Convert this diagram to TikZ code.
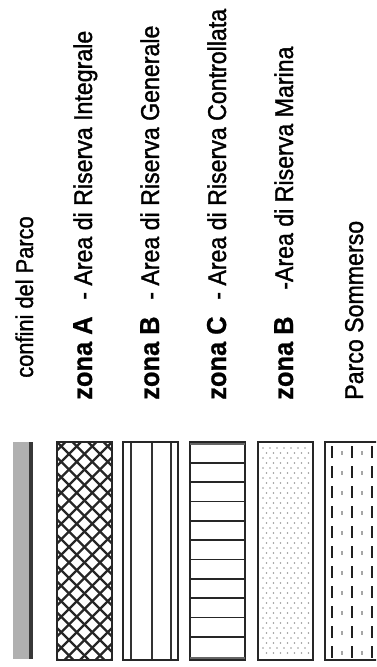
\documentclass[tikz,border=0pt]{standalone}
\usepackage{fontspec}
\setmainfont{Liberation Sans}
\newfontfamily\reglbl[FakeStretch=0.9,FakeBold=1.3]{Liberation Sans}
\newfontfamily\boldlbl[FakeStretch=0.93,FakeBold=0.8]{Liberation Sans Bold}
\begin{document}
\begin{tikzpicture}[x=0.75pt,y=-0.75pt,
  lbl/.style={rotate=90,anchor=base west,inner sep=0pt,text=black,font=\reglbl\fontsize{19.3}{22}\selectfont},
  zlbl/.style={rotate=90,anchor=base west,inner sep=0pt,text=black,font=\boldlbl\fontsize{20.5}{23}\selectfont},
  boxborder/.style={draw=black!85,line width=1.6pt},
  hatch/.style={black!85,line width=1.7pt},
  thinline/.style={black!80,line width=1.1pt}]
\useasboundingbox (0,0) rectangle (376,667);
\clip (0,0) rectangle (376,667);

% ---- texts ----
\node[lbl,font=\reglbl\fontsize{18.2}{21}\selectfont] (t0) at (33,378) {confini del Parco};
\node[zlbl] (z1) at (92,400) {zona A};
\node[lbl] (t1) at (92,300) {- Area di Riserva Integrale};
\node[zlbl] (z2) at (159,400) {zona B};
\node[lbl] (t2) at (159,300) {- Area di Riserva Generale};
\node[zlbl] (z3) at (226,400) {zona C};
\node[lbl] (t3) at (226,300) {- Area di Riserva Controllata};
\node[zlbl] (z4) at (293,400) {zona B};
\node[lbl] (t4) at (293,290) {-Area di Riserva Marina};
\node[lbl] (t5) at (363,400) {Parco Sommerso};

% ---- park border bar ----
\fill[gray!62] (13,442) rectangle (29,659);
\fill[black!78] (29,442) rectangle (33,659);

% ---- zona A: cross hatch ----
\begin{scope}
  \clip (57,442) rectangle (112,660);
  \foreach \k in {-16,...,5} {
    \draw[hatch] ({57+\k*15.5},442) -- ++(240,240);
    \draw[hatch] ({112-\k*15.5},442) -- ++(-240,240);
  }
\end{scope}
\draw[boxborder] (57,442) rectangle (112,660);

% ---- zona B: vertical lines ----
\foreach \xx in {131,152,171} \draw[thinline] (\xx,442) -- (\xx,660);
\draw[boxborder] (123,442) rectangle (178,660);

% ---- zona C: horizontal lines ----
\foreach \k in {0,...,9} \draw[hatch,line width=1.3pt] (190,{463+\k*19.3}) -- (245,{463+\k*19.3});
\draw[boxborder] (190,442) rectangle (245,660);
\draw[black!60,line width=2pt] (190,444) -- (245,444);
\draw[black!60,line width=2pt] (190,658) -- (245,658);

% ---- zona B marina: stipple ----
\foreach \i in {0,...,6} \foreach \j in {0,...,41}
  \fill[gray!80] ({263+\i*7+mod(\j,2)*3.5},{448+\j*5}) circle (0.8);
\draw[boxborder] (258,442) rectangle (313,660);

% ---- parco sommerso: dashes ----
\foreach \xx in {332,352,372}
  \draw[black!88,line width=1.4pt,dash pattern=on 9pt off 6pt,dash phase=-3pt] (\xx,442) -- (\xx,660);
\foreach \xx in {342,362}
  \draw[gray!70,line width=1.3pt,dash pattern=on 3pt off 12pt,dash phase=-7pt] (\xx,442) -- (\xx,660);
\draw[boxborder] (325,442) rectangle (380,660);
\end{tikzpicture}
\end{document}
